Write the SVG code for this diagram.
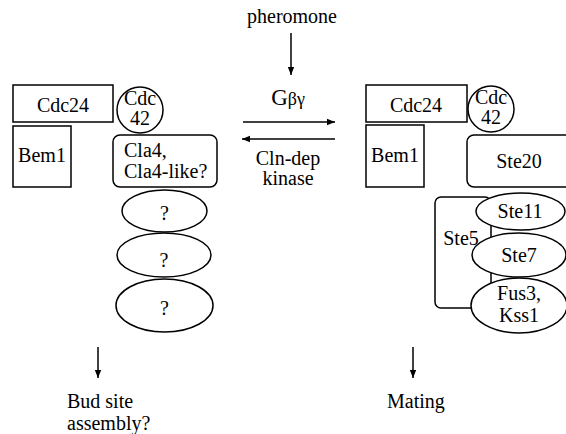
<svg xmlns="http://www.w3.org/2000/svg" width="566" height="434" viewBox="0 0 566 434" font-family="'Liberation Serif', 'Times New Roman', 'DejaVu Serif', serif">
<style>
text{font-family:'Liberation Serif','Times New Roman','DejaVu Serif',serif;font-size:20px;fill:#000;text-anchor:middle}
.st{text-anchor:start}
.s{fill:#fff;stroke:#000;stroke-width:1.5}
.c{stroke:#000;stroke-width:1.5;fill:none}
</style>
<defs>
<marker id="ah" viewBox="0 0 10 10" refX="10" refY="5" markerWidth="8" markerHeight="8" markerUnits="userSpaceOnUse" orient="auto"><path d="M0,1 L10,5 L0,9 Z" fill="#000"/></marker>
</defs>
<rect width="566" height="434" fill="#fff"/>
<text x="292" y="23">pheromone</text>
<text x="288" y="105"><tspan font-size="23">G</tspan><tspan font-size="18">βγ</tspan></text>
<text x="288" y="165">Cln-dep</text>
<text x="288" y="185">kinase</text>
<g id="connectors">
<line class="c" x1="291" y1="33" x2="291" y2="75" marker-end="url(#ah)"/>
<line class="c" x1="243" y1="122" x2="335" y2="122" marker-end="url(#ah)"/>
<line class="c" x1="335" y1="139" x2="242" y2="139" marker-end="url(#ah)"/>
<line class="c" x1="98" y1="347" x2="98" y2="378" marker-end="url(#ah)"/>
<line class="c" x1="413" y1="347" x2="413" y2="378" marker-end="url(#ah)"/>
</g>
<g id="L-Cdc24"><rect class="s" x="13" y="85" width="100" height="37"/><text x="63" y="112">Cdc24</text></g>
<g id="L-Bem1"><rect class="s" x="13" y="126" width="58" height="61"/><text x="42" y="162">Bem1</text></g>
<g id="L-Cdc42"><circle class="s" cx="140" cy="110" r="23"/><text x="140" y="105">Cdc</text><text x="140" y="125">42</text></g>
<g id="L-Cla4"><rect class="s" x="113" y="135" width="104" height="52" rx="7"/><text class="st" x="124" y="157">Cla4,</text><text class="st" x="124" y="178">Cla4-like?</text></g>
<g id="L-q1"><ellipse class="s" cx="164.5" cy="211" rx="42.5" ry="21"/><text x="164.5" y="220">?</text></g>
<g id="L-q2"><ellipse class="s" cx="164" cy="255" rx="47" ry="22"/><text x="164" y="267">?</text></g>
<g id="L-q3"><ellipse class="s" cx="164.5" cy="305.5" rx="48.5" ry="26.5"/><text x="164.5" y="315">?</text></g>
<g id="L-out"><text class="st" x="67" y="408">Bud site</text><text class="st" x="67" y="430">assembly?</text></g>
<g id="R-Cdc24"><rect class="s" x="366" y="85" width="101" height="37"/><text x="416" y="112">Cdc24</text></g>
<g id="R-Bem1"><rect class="s" x="366" y="125" width="58" height="62"/><text x="395" y="162">Bem1</text></g>
<g id="R-Cdc42"><circle class="s" cx="491" cy="109" r="23"/><text x="491" y="104">Cdc</text><text x="491" y="124">42</text></g>
<g id="R-Ste20"><rect class="s" x="467" y="135" width="106" height="52" rx="7"/><text x="519" y="168">Ste20</text></g>
<g id="R-Ste5"><rect class="s" x="435" y="197" width="56" height="111" rx="6"/><text x="461" y="245">Ste5</text></g>
<g id="R-Ste11"><ellipse class="s" cx="520.5" cy="211.5" rx="44.5" ry="18.5"/><text x="520" y="218">Ste11</text></g>
<g id="R-Ste7"><ellipse class="s" cx="519" cy="255" rx="47" ry="22"/><text x="519" y="262">Ste7</text></g>
<g id="R-Fus3"><ellipse class="s" cx="519" cy="305.5" rx="48" ry="27.5"/><text x="519" y="300">Fus3,</text><text x="519" y="322">Kss1</text></g>
<g id="R-out"><text class="st" x="387" y="408">Mating</text></g>
</svg>
